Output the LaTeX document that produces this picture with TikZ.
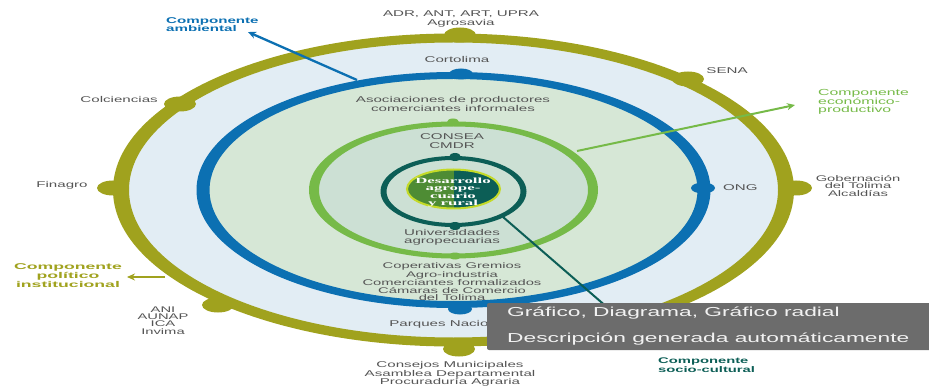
\documentclass[tikz,border=0pt]{standalone}
\usepackage{fontspec}
\setmainfont{Liberation Sans}[FakeStretch=1.8]
\newfontfamily\widefont{Liberation Sans}[FakeStretch=2.1]
\newfontfamily\corefont{Liberation Serif}[FakeStretch=2.1]
\newfontfamily\boxfont{Liberation Sans}[FakeStretch=1.75]
\usepackage{tikz}
\usetikzlibrary{arrows.meta, positioning, shapes.geometric}

\definecolor{olivec}{RGB}{160,162,30}
\definecolor{bluec}{RGB}{12,112,178}
\definecolor{greenc}{RGB}{118,186,72}
\definecolor{tealc}{RGB}{12,94,86}
\definecolor{bandblue}{RGB}{226,237,244}
\definecolor{fillgreen}{RGB}{214,231,214}
\definecolor{fillinner}{RGB}{204,224,212}
\definecolor{coreleft}{RGB}{78,140,52}
\definecolor{coreedge}{RGB}{196,218,40}
\definecolor{labgray}{RGB}{85,85,85}
\definecolor{boxgray}{RGB}{108,108,108}

\begin{document}
\begin{tikzpicture}[x=1pt, y=-1pt,
    lbl/.style={font=\fontsize{8.4}{8.3}\selectfont, text=labgray, align=center, inner sep=0pt},
    lbltight/.style={lbl, font=\fontsize{8.2}{7.3}\selectfont},
    comp/.style={font=\bfseries\fontsize{8.4}{8}\selectfont, inner sep=0pt},
    odot/.style={ellipse, fill=olivec, inner sep=0pt, minimum width=32pt, minimum height=15pt},
    bdot/.style={ellipse, fill=bluec, inner sep=0pt, minimum width=24pt, minimum height=11pt},
    gdot/.style={ellipse, fill=greenc, inner sep=0pt, minimum width=12pt, minimum height=7pt},
    tdot/.style={ellipse, fill=tealc, inner sep=0pt, minimum width=12pt, minimum height=8pt},
    arr/.style={line width=2.3pt, -{Stealth[length=8pt, width=7pt]}},
    boxtxt/.style={font=\boxfont\fontsize{13}{13}\selectfont, text={rgb,255:red,242;green,242;blue,242}, inner sep=0pt, anchor=west}]
    \useasboundingbox (0,0) rectangle (929,390);
    \coordinate (c) at (453.5,190);

    % Filled bands
    \fill[bandblue] (c) ellipse (332.5 and 152);
    \fill[fillgreen] (c) ellipse (250.5 and 114.5);
    \fill[fillinner] (c) ellipse (139.5 and 66);

    % Rings
    \fill[olivec, even odd rule] (c) ellipse (340.5 and 156.5) (c) ellipse (324.5 and 147.5);
    \fill[bluec, even odd rule] (c) ellipse (257 and 118) (c) ellipse (244 and 111);
    \fill[greenc, even odd rule] (c) ellipse (144.5 and 68.5) (c) ellipse (134.5 and 63.5);
    \fill[tealc, even odd rule] (453.5,191.5) ellipse (73 and 35.5) (453.5,191.5) ellipse (67 and 31.5);

    % Core
    \node[ellipse, inner sep=0pt, minimum width=93pt, minimum height=39pt, draw=coreedge, line width=2pt,
        path picture={\fill[coreleft] (path picture bounding box.south west) rectangle (path picture bounding box.north);
                      \fill[tealc] (path picture bounding box.south) rectangle (path picture bounding box.north east);}]
        (core) at (453.5,189) {};
    \node[font=\corefont\bfseries\fontsize{8}{7}\selectfont, text=white, align=center, inner sep=0pt]
        (coreTxt) at (453,192.5) {Desarrollo\\agrope-\\cuario\\y rural};

    % Dots
    \foreach \nm/\x/\y in {oTop/460/35, oColc/180/104, oFin/113/188, oAni/218/305, oBot/459/349, oSena/688/79, oGob/796/188}
        \node[odot] (\nm) at (\x,\y) {};
    \foreach \nm/\x/\y in {bTop/461/74, bOng/703/188, bBot/460/309}
        \node[bdot] (\nm) at (\x,\y) {};
    \node[gdot] (gTop) at (453,122) {};
    \node[gdot] (gBot) at (455,256) {};
    \node[tdot] (tTop) at (455,157) {};
    \node[tdot] (tBot) at (455,226) {};

    % Actors
    \node[lbl] (agen) at (461,19) {ADR, ANT, ART, UPRA\\Agrosavia};
    \node[lbl] (corto) at (457,59) {Cortolima};
    \node[lbl] (asoc) at (453,104) {Asociaciones de productores\\comerciantes informales};
    \node[lbl] (consea) at (452,141) {CONSEA\\CMDR};
    \node[lbl] (univ) at (452,237) {Universidades\\agropecuarias};
    \node[lbltight] (coop) at (452,281.5) {Coperativas Gremios\\Agro-industria\\Comerciantes formalizados\\Cámaras de Comercio\\del Tolima};
    \node[lbl] (parq) at (457,324) {Parques Nacionales};
    \node[lbl] (consej) at (450,374) {Consejos Municipales\\Asamblea Departamental\\Procuraduría Agraria};
    \node[lbl, anchor=east] (colc) at (158,99) {Colciencias};
    \node[lbl] (fina) at (62,185) {Finagro};
    \node[lbltight] (ani) at (163,320.5) {ANI\\AUNAP\\ICA\\Invima};
    \node[lbl] (sena) at (727,71) {SENA};
    \node[lbl, anchor=west] (ong) at (723,188) {ONG};
    \node[lbltight] (gob) at (858,186) {Gobernación\\del Tolima\\Alcaldías};

    % Components
    \node[comp, text=bluec, align=left, anchor=west] (ambL) at (166,25) {Componente\\ambiental};
    \node[font=\fontsize{8.8}{7.6}\selectfont, text=greenc, align=left, anchor=west, inner sep=0pt]
        (ecoL) at (818,101.5) {Componente\\económico-\\productivo};
    \node[font=\widefont\bfseries\fontsize{8.4}{7}\selectfont, text=olivec, align=center, inner sep=0pt]
        (polL) at (68,275.5) {Componente\\político\\institucional};
    \node[comp, font=\bfseries\fontsize{8.2}{6.6}\selectfont, text=tealc, align=left, anchor=west]
        (socL) at (658,365) {Componente\\socio-cultural};

    \coordinate (ambS) at (357,80);
    \coordinate (ambT) at (248,32);
    \coordinate (ecoS) at (577,151);
    \coordinate (ecoT) at (795,105);
    \coordinate (polS) at (165,277);
    \coordinate (polT) at (127,277);
    \coordinate (socS) at (503,217);
    \coordinate (socT) at (608,308);
    \draw[arr, bluec] (ambS) -- (ambT);
    \draw[arr, greenc, line width=2pt] (ecoS) -- (ecoT);
    \draw[arr, olivec] (polS) -- (polT);
    \draw[tealc, line width=2pt] (socS) -- (socT);

    % Overlay
    \fill[boxgray, rounded corners=2pt] (487,303) rectangle (935,350);
    \node[boxtxt] (gr1) at (507,313.5) {Gráfico, Diagrama, Gráfico radial};
    \node[boxtxt] (gr2) at (507,339) {Descripción generada automáticamente};
\end{tikzpicture}
\end{document}
